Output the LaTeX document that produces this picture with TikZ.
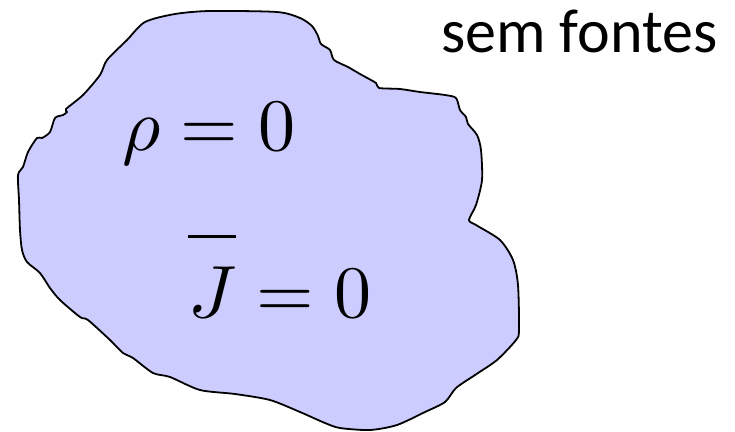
\documentclass[tikz,border=0pt]{standalone}
\usepackage{fontspec}
\newfontfamily\labelfont{Carlito}
\usepackage[dvipsnames]{xcolor}
\newcommand{\bigeq}[1]{\scalebox{7.4}{$#1$}}

\begin{document}
\begin{tikzpicture}[
    x=1pt, y=-1pt,           % pixel-like units, y going down
    blob/.style={
        draw=black,
        fill=blue!20,        % light lilac region
        line width=1.8pt,
        line join=round
    },
    eqn/.style={
        anchor=base,
        inner sep=0pt
    }
]
\useasboundingbox (0,0) rectangle (735,431);

% the region without sources
\draw[blob] plot[smooth cycle, tension=0.45] coordinates {
    (145,22) (175,14) (210,11) (277,12) (300,18) (312,26) (318,36)
    (321,44) (330,50) (334,60) (348,67) (360,74) (376,83) (379,88)
    (400,89) (420,92) (445,95) (456,98) (460,110) (466,117) (468,124)
    (477,135) (481,150) (482,180) (476,205) (469,220) (476,225)
    (500,240) (513,260) (518,285) (519,330) (516,340) (497,360)
    (475,375) (456,388) (445,402) (425,412) (397,425) (370,430)
    (340,428) (325,423) (300,412) (270,400) (235,394) (200,390)
    (170,377) (153,373) (133,358) (123,353) (110,340) (88,320)
    (80,317) (60,300) (50,288) (40,273) (27,262) (22,250) (20,230)
    (19,200) (18,175) (23,167) (28,152) (37,138) (42,138) (50,132)
    (55,118) (63,115) (67,112) (66,109) (83,95) (100,75) (107,60)
    (127,40)
};

\node[eqn] (rho) at (209,150) {\bigeq{\rho=0}};
\node[eqn] (curr) at (280,317) {\bigeq{\overline{\rule{0pt}{9.5pt}J}=0}};

\node[anchor=base west, inner sep=0pt, font=\labelfont\fontsize{62}{66}\selectfont]
    (label) at (441,52) {sem fontes};
\end{tikzpicture}
\end{document}
